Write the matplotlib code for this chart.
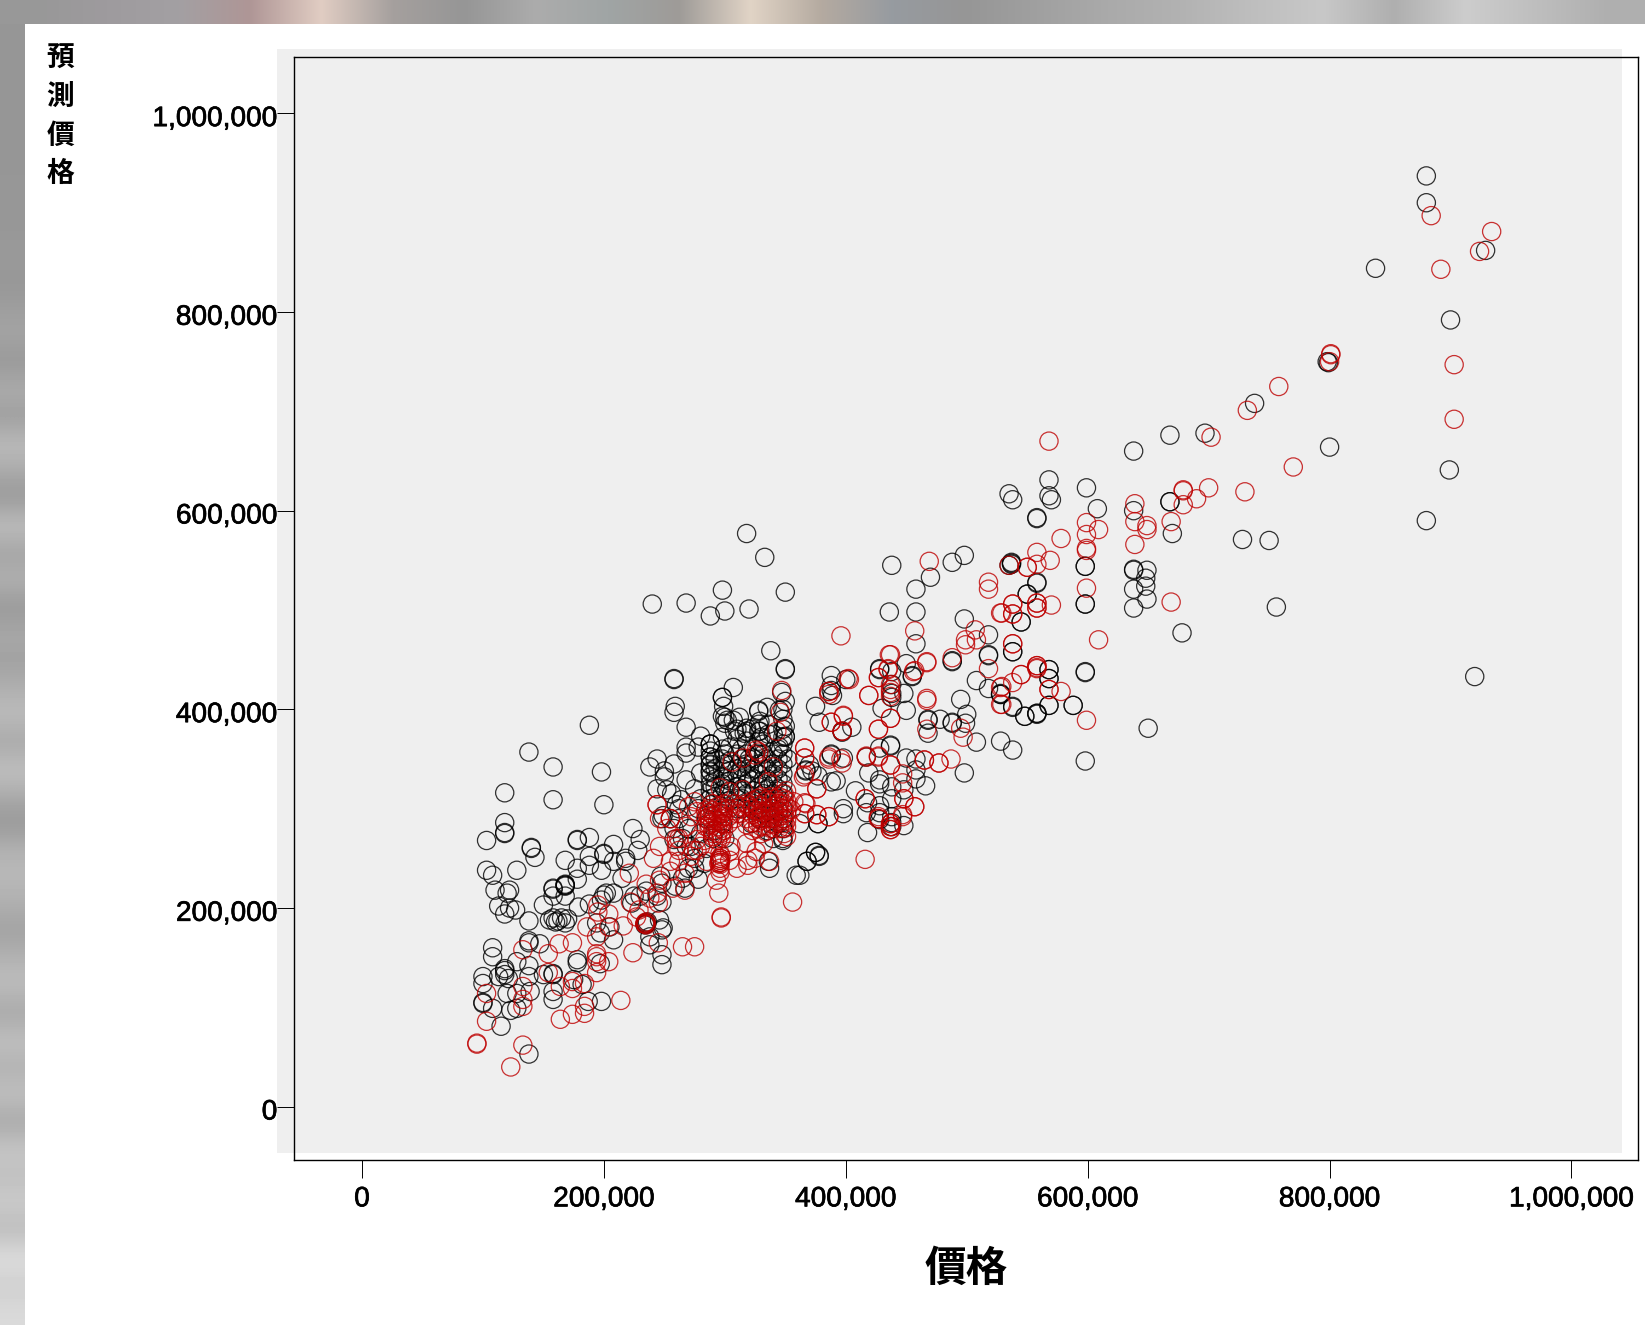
import numpy as np
import matplotlib
matplotlib.use("Agg")
import matplotlib.pyplot as plt
import matplotlib.patheffects as pe
from matplotlib.patches import Rectangle
from matplotlib.ticker import FuncFormatter
from matplotlib.transforms import ScaledTranslation

# values, in thousands
black_x = [880,880,838,900,929,798,799,738,697,668,638,800,899,880,920,650,728,750,756,678,670,668,608,599,568,568,570,
    535,538,558,558,638,668,537,535,598,638,638,649,648,648,638,649,638,598,558,558,550,545,538,568,568,598,528,538,538,568,588,548,558,558,
    438,458,470,488,498,537,537,550,598,598,436,458,498,545,518,458,518,518,538,488,488,428,428,450,455,455,438,388,400,388,388,389,
    438,438,438,448,430,450,508,518,528,528,568,568,568,588,548,558,598,495,500,478,468,468,488,488,499,468,508,528,538,598,
    375,378,405,397,397,388,388,398,367,367,377,388,428,437,437,417,450,458,419,428,428,458,458,466,438,448,498,438,428,417,398,398,377,362,428,438,448,438,418,375,378,368,362,
    240,268,298,288,300,320,350,318,333,338,350,350,258,258,307,298,299,259,258,268,188,347,350,345,335,328,298,302,307,318,308,316,329,329,350,350,350,280,
    268,268,278,288,288,288,288,288,244,238,258,250,250,268,280,244,252,256,264,260,248,249,
    138,158,198,118,158,200,118,118,118,103,178,178,188,140,140,143,224,230,228,168,128,103,108,110,122,120,168,168,158,178,178,188,188,198,200,200,208,208,218,218,215,
    113,118,122,127,138,150,158,158,168,168,168,158,160,155,162,165,168,170,179,188,200,202,208,198,194,205,208,197,223,230,235,225,244,248,246,249,248,238,238,248,248,
    235,235,236,234,247,248,259,267,278,258,138,138,147,108,108,128,138,138,139,118,118,118,100,100,113,121,100,100,108,120,128,123,128,115,138,150,158,158,158,158,178,178,187,198,175,182,197,
    288,288,288,288,288,288,288,288,288,288,298,298,298,298,298,298,298,298,298,298,300,300,300,300,300,300,310,310,310,310,310,310,310,310,
    318,318,318,318,318,318,318,318,320,320,320,328,328,328,328,328,328,328,328,328,328,328,335,335,335,335,335,
    340,340,340,340,340,340,340,340,340,340,348,348,348,348,348,348,348,348,348,348,348,348,348,348,
    377,359,368,375,378,348,337,336,262,262,270,265,275,280,278,285,290,285,275,270,265,
    298,312,322,330,345,352,370,372,392,408,418,428,438]
black_y = [937,910,844,792,862,750,749,708,678,676,660,664,641,590,433,381,571,570,503,477,577,609,602,623,631,615,611,
    617,611,593,592,600,609,547,545,544,541,540,540,532,524,521,511,502,506,528,527,516,488,458,440,431,437,415,403,402,404,404,393,395,396,
    545,521,533,548,555,546,548,516,544,506,498,498,491,488,475,466,455,454,458,448,449,441,440,446,434,433,438,434,430,424,419,414,
    425,416,412,416,401,399,429,421,415,416,440,431,404,404,393,396,438,410,395,390,389,390,386,387,386,376,367,368,359,348,
    403,387,382,378,377,354,355,351,339,338,333,327,361,364,363,352,351,350,336,329,325,339,330,323,322,319,336,310,303,296,300,295,285,285,289,292,283,282,276,256,253,247,233,
    506,507,520,494,499,501,518,577,553,459,440,441,431,430,422,412,403,403,397,382,384,417,408,399,402,399,393,389,389,381,378,376,388,378,383,373,372,373,
    362,356,362,365,352,344,337,365,350,342,345,332,338,329,336,320,319,315,309,304,290,293,
    357,342,337,316,309,304,286,276,275,268,268,269,271,260,261,251,280,269,258,248,238,238,233,218,218,215,222,223,220,240,229,252,243,238,254,255,264,247,250,247,230,
    202,194,200,198,187,203,212,219,212,223,224,190,186,188,187,190,185,189,201,204,213,215,215,208,185,181,168,175,205,212,217,212,212,206,188,180,178,171,163,153,143,
    185,184,186,183,232,225,222,220,229,269,167,165,164,160,151,146,142,131,116,139,137,133,131,124,131,129,105,104,99,114,114,97,99,81,53,133,133,134,116,108,148,145,106,106,128,123,144,
    365,358,352,345,338,332,325,318,310,304,372,360,350,340,332,325,315,305,295,285,392,386,355,345,330,320,380,370,355,340,335,322,310,300,
    378,368,355,345,335,325,315,305,350,340,330,398,385,378,368,355,345,335,322,310,300,290,350,340,330,320,310,
    375,355,345,335,325,315,300,290,280,270,400,390,380,372,365,355,345,335,325,315,300,290,280,268,
    285,233,247,256,252,270,240,247,300,290,280,270,320,310,300,290,270,260,250,240,230,
    412,392,380,372,362,350,344,338,328,318,306,296,286]

# the thick black patch in the middle, read as columns
patch_black_x = [292,292,292,292,292,304,304,304,304,304,304,314,314,314,314,314,314,314,324,324,324,324,324,324,324,
    332,332,332,332,332,332,332,344,344,344,344,344,344,344,344,336,336,255,258,272,280,283,275,268,292,300,322,335]
patch_black_y = [350,340,330,322,312,362,348,338,328,318,308,360,350,342,330,320,310,300,360,350,340,330,318,308,298,
    365,355,345,325,315,305,295,360,350,340,330,320,310,298,285,375,385,290,280,262,275,245,240,262,278,270,285,278]

red_x = [884,892,934,924,801,801,800,732,758,903,903,770,702,568,
    730,700,679,679,690,679,639,639,649,649,669,599,609,599,578,599,599,639,558,558,569,550,535,599,538,558,558,570,538,529,669,609,538,558,558,545,538,529,568,578,529,599,
    396,457,518,518,528,538,538,558,558,550,538,507,508,499,499,488,467,436,435,457,427,518,558,558,545,528,528,568,
    403,386,386,419,437,437,437,437,467,467,398,388,397,427,437,467,495,497,366,366,386,386,396,397,417,427,437,465,477,487,447,376,366,416,448,457,366,366,376,386,427,427,437,437,437,447,416,
    95,95,123,133,103,103,133,133,133,133,154,163,174,154,164,164,174,184,184,214,174,174,184,194,194,194,194,204,186,194,195,204,204,195,216,224,
    234,234,235,235,234,222,221,235,245,246,244,238,245,265,275,229,227,255,262,255,267,267,257,246,244,295,293,297,297,356,
    296,296,296,297,295,296,304,304,319,319,326,337,285,277,277,274,255,244,275,277,270,255,285,
    287,287,287,287,287,287,297,297,297,297,297,297,297,300,327,327,327,327,327,327,338,338,338,338,338,338,338,349,349,349,349,349,349,349,349,349,
    306,315,326,328,325,296,304,315,336,340,347,346,343,366,366,365,376,367,366,376,386,357,
    386,388,398,397,402,419,427,437,435,469,456,467,427,437,417,427,437,447,416,457,448,447,427,437,437,437,465,477,
    310,320,330,345,355,290,283,272,268,262,252,246,241]
red_y = [897,843,881,861,758,757,750,701,725,747,692,644,674,670,
    619,623,621,620,612,606,607,589,585,581,589,588,581,576,572,562,560,566,558,546,550,543,545,522,506,507,502,505,496,497,508,470,466,444,441,435,427,423,420,418,405,389,
    474,479,528,521,497,506,496,507,502,543,466,480,470,470,465,452,448,455,440,439,432,441,444,442,435,422,405,420,
    430,418,415,414,425,420,417,413,411,409,394,387,378,380,391,380,381,372,361,351,352,350,350,346,352,353,344,349,346,350,326,320,334,310,310,302,306,295,294,292,290,292,285,282,279,292,249,
    64,63,40,62,86,114,121,108,101,158,154,164,165,135,121,88,93,94,101,107,126,119,124,154,151,146,135,146,181,171,196,194,181,203,182,155,
    185,184,186,183,184,206,235,224,205,228,215,210,165,161,161,198,191,247,247,237,235,218,220,290,304,215,228,191,190,206,
    248,250,246,252,245,248,248,257,248,243,257,247,247,258,269,258,290,304,307,297,302,290,294,
    300,296,292,288,284,280,300,295,290,285,280,275,270,305,310,304,298,292,286,280,312,306,300,295,290,285,280,315,310,305,300,295,290,285,280,275,
    347,351,359,357,354,321,317,319,327,342,419,397,378,361,351,332,320,305,295,294,292,307,
    418,387,393,378,431,414,432,455,441,549,438,447,380,391,353,352,344,335,310,302,310,294,290,285,282,279,349,346,
    295,303,290,305,299,275,268,292,282,270,280,262,250]

# the solid red patch
patch_red_x = [284,284,284,290,290,290,290,290,290,292,294,294,294,294,294,294,299,299,299,299,303,303,303,308,308,308,313,313,
    318,318,318,318,323,323,323,323,323,330,330,330,330,330,330,334,334,334,334,334,341,341,341,341,341,345,345,345,345,345,345,
    351,351,351,351,351,351,351,296,296,296,296,296,296,260,260,262,272,280,305,310,318,325,332]
patch_red_y = [298,290,282,305,298,293,286,278,272,290,302,296,288,282,275,268,298,292,284,278,300,292,285,305,298,290,302,295,
    305,298,290,284,308,300,294,286,278,312,302,296,288,282,275,308,298,290,283,277,310,303,297,291,284,312,305,298,292,286,280,
    318,308,302,296,288,282,272,255,250,246,244,240,236,270,262,258,252,262,262,240,265,250,265]

x_ticks = [0, 200000, 400000, 600000, 800000, 1000000]
y_ticks = [0, 200000, 400000, 600000, 800000, 1000000]

# blurred photo showing behind the chart
top_band = [(152,152,152),(158,155,158),(163,160,163),(175,150,150),(225,205,195),(165,160,158),(150,150,150),(172,172,172),(160,165,165),
    (158,155,152),(225,212,198),(180,170,160),(150,155,160),(150,150,150),(160,160,160),(170,170,170),(178,178,178),(190,190,190),(200,200,200),(175,175,175),(205,205,205),(190,190,190),(175,175,175)]
left_band = [150,150,150,150,150,150,152,150,155,150,158,165,150,175,155,190,170,150,195,160,180,150,170,160,175,190,165,195,170,
    150,180,185,175,160,180,190,165,195,175,195,165,200,190,205,185,225,205,218]

W, H = 1645, 1325
fig = plt.figure(figsize=(W/100, H/100), dpi=100, facecolor="white")


def fx(px):
    return px/W


def fy(py):
    return 1 - py/H


bt = fig.add_axes([0, fy(24), 1, 24/H], zorder=0)
bt.imshow(np.array(top_band, dtype=np.uint8)[None, :, :], aspect="auto", interpolation="bilinear")
bt.axis("off")
bl = fig.add_axes([0, 0, 25/W, fy(24)], zorder=0)
bl.imshow(np.array(left_band, dtype=np.uint8)[:, None], cmap="gray", vmin=0, vmax=255, aspect="auto", interpolation="bicubic")
bl.axis("off")

# grey panel sits a bit off the axes frame
fig.add_artist(Rectangle((fx(277), fy(1153)), (1622-277)/W, (1153-49)/H, transform=fig.transFigure, fc="#EFEFEF", ec="none", zorder=0.5))

ax = fig.add_axes([fx(294), fy(1160), (1638-294)/W, (1160-57)/H], zorder=2)
ax.patch.set_alpha(0)
all_black_x = np.array(black_x + patch_black_x)*1000
all_black_y = np.array(black_y + patch_black_y)*1000
all_red_x = np.array(red_x + patch_red_x)*1000
all_red_y = np.array(red_y + patch_red_y)*1000
ax.scatter(all_black_x, all_black_y, s=172, facecolors="none", edgecolors="black", linewidths=0.9, alpha=0.8)
ax.scatter(all_red_x, all_red_y, s=172, facecolors="none", edgecolors="#BE0000", linewidths=0.9, alpha=0.8)

ax.set_xlim(-56220, 1055000)
ax.set_ylim(-53650, 1056700)
ax.set_xticks(x_ticks)
ax.set_yticks(y_ticks)
fmt = FuncFormatter(lambda v, p: f"{int(v):,}")
ax.xaxis.set_major_formatter(fmt)
ax.yaxis.set_major_formatter(fmt)
ax.tick_params(axis="x", length=13, width=0.7, pad=6)
ax.tick_params(axis="y", length=12, width=0.7, pad=0)
nudge = ScaledTranslation(0, -2/72, fig.dpi_scale_trans)
for lab in ax.get_xticklabels() + ax.get_yticklabels():
    lab.set_fontfamily("Liberation Sans")
    lab.set_fontsize(20.2)
    lab.set_path_effects([pe.withStroke(linewidth=0.5, foreground="black")])
for lab in ax.get_yticklabels():
    lab.set_transform(lab.get_transform() + nudge)
for s in ax.spines.values():
    s.set_linewidth(1.0)

# y title stands one character under the other
cjk = ["Noto Sans CJK TC", "DejaVu Sans"]
for i, ch in enumerate("預測價格"):
    fig.text(fx(60.5), fy(59 + i*38.3), ch, family=cjk, fontsize=20, fontweight="bold", ha="center", va="center")
fig.text(fx(966), fy(1269), "價格", family=cjk, fontsize=30, fontweight="bold", ha="center", va="center")

fig.savefig("out.png", dpi=100)
